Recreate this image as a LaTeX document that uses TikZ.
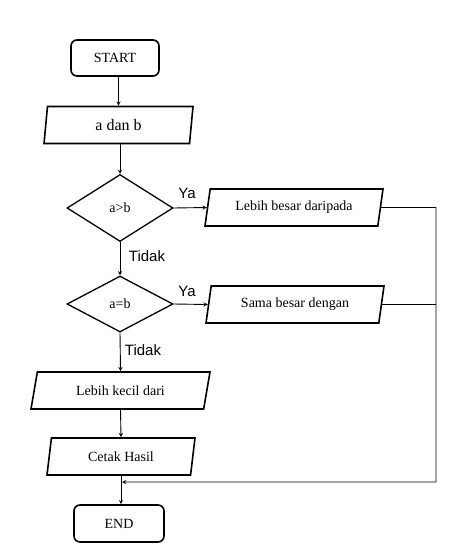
\documentclass[tikz,border=0pt]{standalone}
\usepackage{fontspec}
\setmainfont{Liberation Serif}
\newfontfamily\arialfont{Liberation Sans}
\usetikzlibrary{shapes.geometric}

\begin{document}
\begin{tikzpicture}[>=stealth, x=1pt, y=1pt,
  terminal/.style={draw, line width=1.6pt, rounded corners=6pt, font=\fontsize{14}{16}\selectfont},
  io/.style={draw, line width=1.6pt, trapezium, trapezium stretches body, trapezium left angle=75, trapezium right angle=105, minimum height=37pt, font=\fontsize{14}{16}\selectfont},
  decision/.style={draw, line width=1.3pt, diamond, inner sep=0pt, font=\fontsize{14}{16}\selectfont},
  lbl/.style={font=\arialfont\fontsize{15}{17}\selectfont},
  flow/.style={line width=0.9pt}]
\useasboundingbox (0,0) rectangle (465,-554);
%% boxes
\node[terminal, minimum width=88pt, minimum height=36pt] (start) at (115,-58) {START};
\node[io, minimum width=149pt, trapezium left angle=79, trapezium right angle=101, font=\fontsize{16}{18}\selectfont] (input) at (118.5,-125) {a dan b};
\node[decision, minimum width=106pt, minimum height=67pt] (gt) at (120,-208) {a>b};
\node[io, minimum width=178pt] (besar) at (294,-207.5) {Lebih besar daripada};
\node[decision, minimum width=106pt, minimum height=56pt] (eq) at (120,-304) {a=b};
\node[io, minimum width=178pt] (sama) at (295,-304.5) {Sama besar dengan};
\node[io, minimum width=179pt, trapezium left angle=69, trapezium right angle=111] (kecil) at (120.5,-390.5) {Lebih kecil dari};
\node[io, minimum width=148pt] (cetak) at (121,-456.5) {Cetak Hasil};
\node[terminal, minimum width=90pt, minimum height=37pt] (finish) at (119,-523.5) {END};
%% labels
\node[lbl] (ya1) at (187,-193) {Ya};
\node[lbl] (tidak1) at (147,-256) {Tidak};
\node[lbl] (ya2) at (187,-291.5) {Ya};
\node[lbl] (tidak2) at (143,-350) {Tidak};
%% arrows
\draw[flow, ->] (input.north |- start.south) -- (input.north);
\draw[flow, ->] (gt.north |- input.south) -- (gt.north);
\draw[flow, ->] (gt.east) -- (besar.west);
\draw[flow, ->] (gt.south) -- (eq.north);
\draw[flow, ->] (eq.east) -- (sama.west);
\draw[flow, ->] (eq.south) -- (kecil.north);
\draw[flow, ->] (kecil.south) -- (cetak.north);
\draw[flow, ->] (cetak.south) -- (cetak.south |- finish.north);
%% back line
\coordinate (rtop) at (436,-207.5);
\coordinate (merge) at (122,-482);
\draw[flow, ->] (besar.east) -- (rtop) |- (merge);
\draw[flow] (sama.east) -- (sama.east -| rtop);
\end{tikzpicture}
\end{document}
